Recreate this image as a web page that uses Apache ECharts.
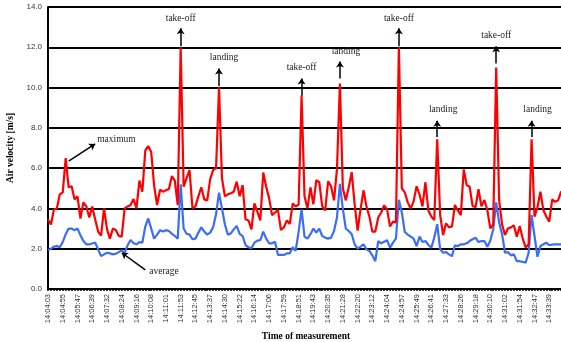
<!DOCTYPE html>
<html>
<head>
<meta charset="utf-8">
<script src="https://cdn.jsdelivr.net/npm/echarts@6/dist/echarts.min.js"></script>
<style>
  html, body { margin: 0; padding: 0; background: #fff; }
  #chart { width: 561px; height: 342px; }
</style>
</head>
<body>
<div id="chart"></div>
<script>
// tick labels, one every 5 samples
const tickLabels = [
  '14:04:03', '14:04:55', '14:05:47', '14:06:39', '14:07:32', '14:08:24', '14:09:16', '14:10:08',
  '14:11:01', '14:11:53', '14:12:45', '14:13:37', '14:14:30', '14:15:22', '14:16:14', '14:17:06',
  '14:17:59', '14:18:51', '14:19:43', '14:20:35', '14:21:28', '14:22:20', '14:23:12', '14:24:04',
  '14:24:57', '14:25:49', '14:26:41', '14:27:33', '14:28:26', '14:29:18', '14:30:10', '14:31:02',
  '14:31:54', '14:32:47', '14:33:39', '14:34:31'
]

const maximum = [
  3.45, 3.2, 3.95, 4.0, 4.7, 4.8, 6.5, 5.05, 5.1, 4.45,
  4.6, 3.5, 4.3, 4.1, 3.55, 4.1, 3.45, 2.85, 2.65, 4.0,
  2.97, 2.5, 3.0, 2.93, 2.63, 2.6, 4.0, 4.1, 4.17, 4.47,
  4.0, 5.38, 4.83, 6.88, 7.1, 6.8, 5.13, 4.17, 4.93, 4.83,
  4.9, 4.97, 5.6, 5.38, 4.17, 12.0, 5.08, 5.5, 5.9, 4.0,
  4.1, 4.6, 5.05, 4.45, 4.4, 5.45, 5.9, 6.0, 10.0, 5.5,
  4.6, 4.7, 4.75, 4.83, 5.33, 4.6, 5.16, 3.46, 3.4, 2.96,
  4.25, 3.84, 3.4, 5.78, 5.08, 4.5, 3.67, 3.8, 3.92, 2.93,
  3.06, 3.4, 3.23, 4.25, 4.09, 4.2, 9.6, 4.6, 4.0, 5.05,
  4.2, 5.4, 5.3, 4.1, 3.9, 5.35, 5.1, 4.4, 5.95, 10.2,
  5.0, 4.4, 5.05, 5.8, 4.2, 2.9, 3.95, 4.9, 4.1, 3.6,
  2.85, 2.85, 3.55, 3.8, 4.15, 3.95, 3.1, 3.35, 3.3, 12.0,
  5.0, 4.8, 4.3, 4.0, 4.35, 5.1, 4.7, 4.1, 5.3, 3.9,
  3.6, 3.43, 7.43, 3.67, 2.68, 3.26, 3.06, 3.1, 4.17, 3.9,
  3.67, 5.94, 5.16, 5.08, 4.12, 4.06, 4.95, 4.1, 4.42, 3.92,
  3.01, 3.2, 11.0, 4.4, 3.2, 2.68, 3.0, 3.06, 3.16, 2.6,
  3.13, 2.5, 2.07, 2.2, 7.43, 3.59, 4.06, 4.83, 3.92, 3.6,
  3.34, 4.45, 4.33, 4.4, 4.83, 4.7
]

const average = [
  1.93, 2.0, 2.1, 2.13, 2.08, 2.33, 2.72, 3.0, 3.0, 2.92,
  3.0, 2.67, 2.38, 2.22, 2.22, 2.26, 2.3, 1.97, 1.63, 1.72,
  1.8, 1.77, 1.72, 1.75, 1.83, 1.92, 1.8, 2.17, 2.43, 2.27,
  2.22, 2.33, 2.3, 3.1, 3.5, 3.0, 2.5, 2.7, 2.92, 2.85,
  2.92, 2.88, 2.75, 2.63, 2.5, 5.2, 3.0, 2.74, 2.7, 2.47,
  2.5, 2.8, 3.06, 2.85, 2.7, 2.8, 3.06, 3.72, 4.78, 4.0,
  3.2, 2.7, 2.76, 2.96, 3.13, 2.74, 2.63, 2.18, 2.07, 2.02,
  2.3, 2.4, 2.43, 2.85, 2.5, 2.27, 2.27, 2.35, 1.69, 1.7,
  1.69, 1.77, 1.77, 2.07, 1.9, 2.85, 3.95, 2.6, 2.5, 2.72,
  3.0, 2.8, 3.0, 2.63, 2.55, 2.5, 2.55, 2.88, 3.55, 5.22,
  3.97, 3.0, 2.88, 2.72, 2.22, 2.0, 2.1, 2.22, 1.97, 1.88,
  1.67, 1.38, 2.38, 2.27, 2.35, 2.42, 2.05, 2.3, 2.5, 4.43,
  3.8, 2.83, 2.7, 2.6, 2.5, 2.13, 2.6, 2.33, 2.38, 2.2,
  2.05, 2.55, 3.22, 1.97, 1.8, 1.83, 1.72, 1.63, 2.17, 2.13,
  2.22, 2.22, 2.27, 2.38, 2.47, 2.55, 2.33, 2.38, 2.38, 2.1,
  2.4, 2.97, 4.3, 3.3, 2.72, 1.8, 1.83, 1.67, 1.72, 1.38,
  1.38, 1.35, 1.3, 1.8, 3.67, 2.63, 1.6, 2.13, 2.22, 2.3,
  2.17, 2.2, 2.22, 2.22, 2.22, 2.22
]

// event notes: sample index, arrow from/to (m/s), text level, text shift in px
const events = [
  { text: 'take-off', i: 45, from: 12.05, to: 12.95, at: 13.45, dx: 0 },
  { text: 'landing', i: 58, from: 10.08, to: 10.95, at: 11.5, dx: 5 },
  { text: 'take-off', i: 86, from: 9.6, to: 10.45, at: 11.0, dx: 0 },
  { text: 'landing', i: 99, from: 10.45, to: 11.3, at: 11.8, dx: 6 },
  { text: 'take-off', i: 119, from: 12.05, to: 12.95, at: 13.45, dx: 0 },
  { text: 'landing', i: 132, from: 7.55, to: 8.35, at: 8.9, dx: 6 },
  { text: 'take-off', i: 152, from: 11.2, to: 12.05, at: 12.6, dx: 0 },
  { text: 'landing', i: 164, from: 7.55, to: 8.35, at: 8.9, dx: 6 }
]

const STEP = 5
const categories = []
for (let i = 0; i < maximum.length; i++) {
  const t = tickLabels[Math.floor(i / STEP)]
  categories.push(i % STEP === 0 ? t : t + '+' + (i % STEP))
}

const serif = '"Liberation Serif", "DejaVu Serif", serif'
const sans = '"Liberation Sans", Arial, sans-serif'

const noteLabel = {
  show: true,
  position: 'inside',
  fontFamily: serif,
  fontSize: 9.5,
  color: '#222',
  formatter: (p) => p.name,
}

const chart = echarts.init(document.getElementById('chart'), null, { renderer: 'canvas' })

chart.setOption({
  animation: false,
  backgroundColor: '#fff',
  grid: { left: 48, right: -3, top: 7, bottom: 53, containLabel: false, outerBoundsMode: 'none' },
  xAxis: {
    type: 'category',
    data: categories,
    boundaryGap: false,
    name: 'Time of measurement',
    nameLocation: 'middle',
    nameGap: 42,
    nameTextStyle: { fontFamily: serif, fontWeight: 'bold', fontSize: 9.5, color: '#000' },
    axisLine: { lineStyle: { color: '#000', width: 2 } },
    axisTick: { show: true, interval: 0, length: 2, inside: false, lineStyle: { color: '#000', width: 1.5 } },
    axisLabel: {
      interval: STEP - 1,
      rotate: 90,
      fontFamily: sans,
      fontSize: 7.5,
      color: '#333',
      margin: 5,
    },
    splitLine: { show: false },
  },
  yAxis: {
    type: 'value',
    min: 0,
    max: 14,
    interval: 2,
    name: 'Air velocity [m/s]',
    nameLocation: 'middle',
    nameRotate: 90,
    nameGap: 32,
    nameTextStyle: { fontFamily: serif, fontWeight: 'bold', fontSize: 9.5, color: '#000' },
    axisLine: { show: true, lineStyle: { color: '#000', width: 2 } },
    axisTick: { show: false },
    axisLabel: {
      formatter: (v) => v.toFixed(1),
      fontFamily: sans,
      fontSize: 8,
      color: '#333',
      margin: 6,
    },
    splitLine: { show: true, lineStyle: { color: '#000', width: 2 } },
  },
  series: [
    {
      name: 'average',
      type: 'line',
      data: average,
      symbol: 'none',
      lineStyle: { color: '#3c6df5', width: 2.2 },
      z: 3,
      markLine: {
        silent: true,
        symbol: ['none', 'arrow'],
        symbolSize: 6,
        label: { show: false },
        lineStyle: { color: '#000', width: 1.5, type: 'solid' },
        data: [[{ coord: [33, 0.95] }, { coord: [25, 1.8] }]],
      },
      markPoint: {
        silent: true,
        symbol: 'rect',
        symbolSize: 0,
        label: Object.assign({}, noteLabel, { position: 'right', distance: 1 }),
        data: [{ name: 'average', coord: [34, 0.85] }],
      },
    },
    {
      name: 'maximum',
      type: 'line',
      data: maximum,
      symbol: 'none',
      lineStyle: { color: '#ff0000', width: 2.2 },
      z: 4,
      markLine: {
        silent: true,
        symbol: ['none', 'arrow'],
        symbolSize: 6,
        label: { show: false },
        lineStyle: { color: '#000', width: 1.5, type: 'solid' },
        data: [[{ coord: [7, 6.35] }, { coord: [16, 7.2] }]].concat(
          events.map((e) => [{ coord: [e.i, e.from] }, { coord: [e.i, e.to] }])
        ),
      },
      markPoint: {
        silent: true,
        symbol: 'rect',
        symbolSize: 0,
        label: noteLabel,
        data: [
          { name: 'maximum', coord: [16, 7.4], label: { position: 'right', distance: 2 } },
        ].concat(events.map((e) => ({
          name: e.text,
          coord: [e.i, e.at],
          label: { offset: [e.dx, 0] },
        }))),
      },
    },
  ],
})
</script>
</body>
</html>
